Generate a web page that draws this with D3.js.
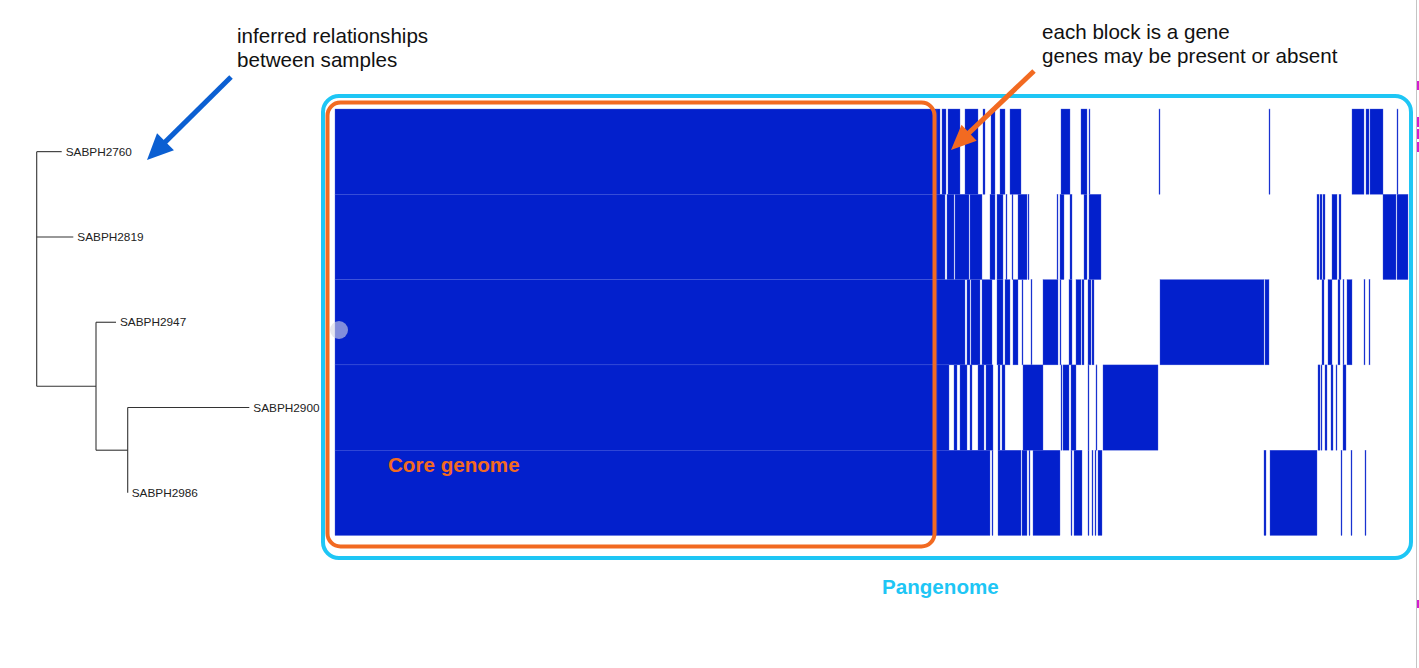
<!DOCTYPE html>
<html>
<head>
<meta charset="utf-8">
<script src="https://cdn.jsdelivr.net/npm/d3@7/dist/d3.min.js"></script>
<style>
  html, body { margin: 0; padding: 0; background: #ffffff; }
  svg { display: block; }
  text { font-family: "Liberation Sans", Arial, Helvetica, sans-serif; }
</style>
</head>
<body>
<svg id="chart" width="1419" height="668"></svg>
<script>
// ---------------- DATA ----------------
const samples = ["SABPH2760", "SABPH2819", "SABPH2947", "SABPH2900", "SABPH2986"];

// tree (parent / child / branch length)
const treeIds      = ["root", "SABPH2760", "SABPH2819", "A", "SABPH2947", "B", "SABPH2900", "SABPH2986"];
const treeParents  = ["",     "root",      "root",      "root", "A",       "A", "B",         "B"];
const branchLength = [0,      0.0250,      0.0366,      0.0593, 0.0200,    0.0317, 0.1216,   0.0];

const geneCount = 1074;
const coreGenes = [0, 602];

// accessory genes present per sample, as [startGene, endGene] runs
const presence2760 = [[602,605],[607,611],[613,625],[630,643],[648,650],[656,660],[665,670],[675,686],[726,735],[746,752],[754,755],[824,825],[934,935],[1017,1029],[1031,1034],[1035,1048],[1062,1063]];
const presence2819 = [[602,610],[612,619],[620,634],[635,647],[655,660],[662,668],[671,672],[677,678],[683,692],[693,694],[722,723],[725,729],[735,737],[749,752],[754,766],[982,984],[985,987],[988,990],[997,1002],[1004,1006],[1048,1061],[1062,1073]];
const presence2947 = [[602,630],[632,635],[636,645],[647,657],[662,668],[670,675],[678,683],[687,688],[696,697],[708,723],[725,726],[734,737],[741,746],[747,749],[753,756],[757,759],[825,929],[930,934],[987,989],[993,997],[1003,1005],[1008,1009],[1012,1017],[1029,1030],[1034,1035]];
const presence2900 = [[602,614],[619,622],[625,632],[635,637],[643,649],[651,658],[663,665],[667,670],[688,708],[726,727],[728,734],[736,741],[753,754],[761,762],[768,823],[983,985],[986,987],[990,992],[996,998],[1001,1002],[1008,1011]];
const presence2986 = [[602,655],[657,658],[663,686],[687,692],[694,695],[698,725],[736,737],[739,747],[753,754],[757,758],[760,761],[763,767],[929,931],[935,982],[1006,1007],[1016,1017],[1030,1031]];

const presenceBySample = {
  "SABPH2760": presence2760, "SABPH2819": presence2819, "SABPH2947": presence2947,
  "SABPH2900": presence2900, "SABPH2986": presence2986
};

// ---------------- DRAW ----------------
const svg = d3.select("#chart");
const BLUE = "#0320cc", ORANGE = "#f26a21", CYAN = "#1ec6f5", ARROWBLUE = "#0b5fd2";

const y = d3.scaleBand().domain(samples).range([109, 535.5]).padding(0);
const x = d3.scaleLinear().domain([0, geneCount]).range([335, 1409]);

// heatmap
const cells = [];
samples.forEach(s => {
  cells.push({ s, a: coreGenes[0], b: coreGenes[1] });
  presenceBySample[s].forEach(([a, b]) => cells.push({ s, a, b }));
});
svg.append("g").selectAll("rect").data(cells).join("rect")
  .attr("x", d => x(d.a))
  .attr("y", d => y(d.s))
  .attr("width", d => Math.max(0.8, x(d.b) - x(d.a)))
  .attr("height", y.bandwidth())
  .attr("fill", BLUE)
  .attr("stroke", "#4a5fdc")
  .attr("stroke-width", 0.35);

// tree
const root = d3.stratify().id((d, i) => treeIds[i]).parentId((d, i) => treeParents[i] || null)(treeIds.map((id, i) => ({ id, len: branchLength[i] })));
root.each(n => { n.dist = (n.parent ? n.parent.dist : 0) + n.data.len; });
const maxDist = d3.max(root.leaves(), l => l.dist);
const tx = d3.scaleLinear().domain([0, maxDist]).range([36.7, 249.3]);
root.eachAfter(n => {
  n.yy = n.children ? d3.mean(n.children, c => c.yy) : y(n.id) + y.bandwidth() / 2;
});
const tg = svg.append("g").attr("stroke", "#333").attr("stroke-width", 1.1).attr("fill", "none");
root.descendants().forEach(n => {
  if (n.parent) {
    tg.append("line").attr("x1", tx(n.parent.dist)).attr("x2", tx(n.dist)).attr("y1", n.yy).attr("y2", n.yy);
  }
  if (n.children) {
    const ys = n.children.map(c => c.yy);
    tg.append("line").attr("x1", tx(n.dist)).attr("x2", tx(n.dist)).attr("y1", d3.min(ys)).attr("y2", d3.max(ys));
  }
});
svg.append("g").selectAll("text").data(root.leaves()).join("text")
  .attr("x", d => tx(d.dist) + 4)
  .attr("y", d => d.yy)
  .attr("dy", "0.36em")
  .attr("font-size", 11.8)
  .attr("fill", "#222")
  .text(d => d.id);

// hover marker
svg.append("circle").attr("cx", 339).attr("cy", 330).attr("r", 9).attr("fill", "rgba(215,215,228,0.6)");

// boxes
svg.append("rect").attr("x", 323).attr("y", 96).attr("width", 1411 - 323).attr("height", 558 - 96)
  .attr("rx", 16).attr("fill", "none").attr("stroke", CYAN).attr("stroke-width", 4);
svg.append("rect").attr("x", 327.5).attr("y", 102.5).attr("width", 934.5 - 327.5).attr("height", 546.5 - 102.5)
  .attr("rx", 13).attr("fill", "none").attr("stroke", ORANGE).attr("stroke-width", 4);

// arrows
function arrow(x1, y1, x2, y2, color, headLen, headHalf, w) {
  const dx = x2 - x1, dy = y2 - y1, L = Math.hypot(dx, dy);
  const ux = dx / L, uy = dy / L;
  const bx = x2 - ux * headLen, by = y2 - uy * headLen;
  svg.append("line").attr("x1", x1).attr("y1", y1).attr("x2", bx + ux * 2).attr("y2", by + uy * 2)
    .attr("stroke", color).attr("stroke-width", w);
  svg.append("path").attr("d", `M${x2},${y2}L${bx - uy * headHalf},${by + ux * headHalf}L${bx + uy * headHalf},${by - ux * headHalf}Z`)
    .attr("fill", color);
}
arrow(231, 77, 147, 160, ARROWBLUE, 26, 12, 5);
arrow(1034, 71, 951, 150, ORANGE, 25, 11, 5);

// annotation text
const ann = svg.append("g").attr("font-size", 20.6).attr("fill", "#111");
ann.append("text").attr("x", 237).attr("y", 43).text("inferred relationships");
ann.append("text").attr("x", 237).attr("y", 67).text("between samples");
ann.append("text").attr("x", 1042).attr("y", 39).text("each block is a gene");
ann.append("text").attr("x", 1042).attr("y", 63).text("genes may be present or absent");
svg.append("text").attr("x", 388).attr("y", 472).attr("font-size", 20.6).attr("font-weight", "bold")
  .attr("fill", ORANGE).text("Core genome");
svg.append("text").attr("x", 882).attr("y", 594).attr("font-size", 20.6).attr("font-weight", "bold")
  .attr("fill", CYAN).text("Pangenome");

// right window edge
svg.append("line").attr("x1", 1416.5).attr("x2", 1416.5).attr("y1", 0).attr("y2", 668).attr("stroke", "#c4c4c4").attr("stroke-width", 1);
[[81, 9], [117, 10], [129, 10], [142, 10], [600, 8]].forEach(([yy, h]) => {
  svg.append("rect").attr("x", 1417).attr("y", yy).attr("width", 2).attr("height", h).attr("fill", "#d21ed2");
});
</script>
</body>
</html>
